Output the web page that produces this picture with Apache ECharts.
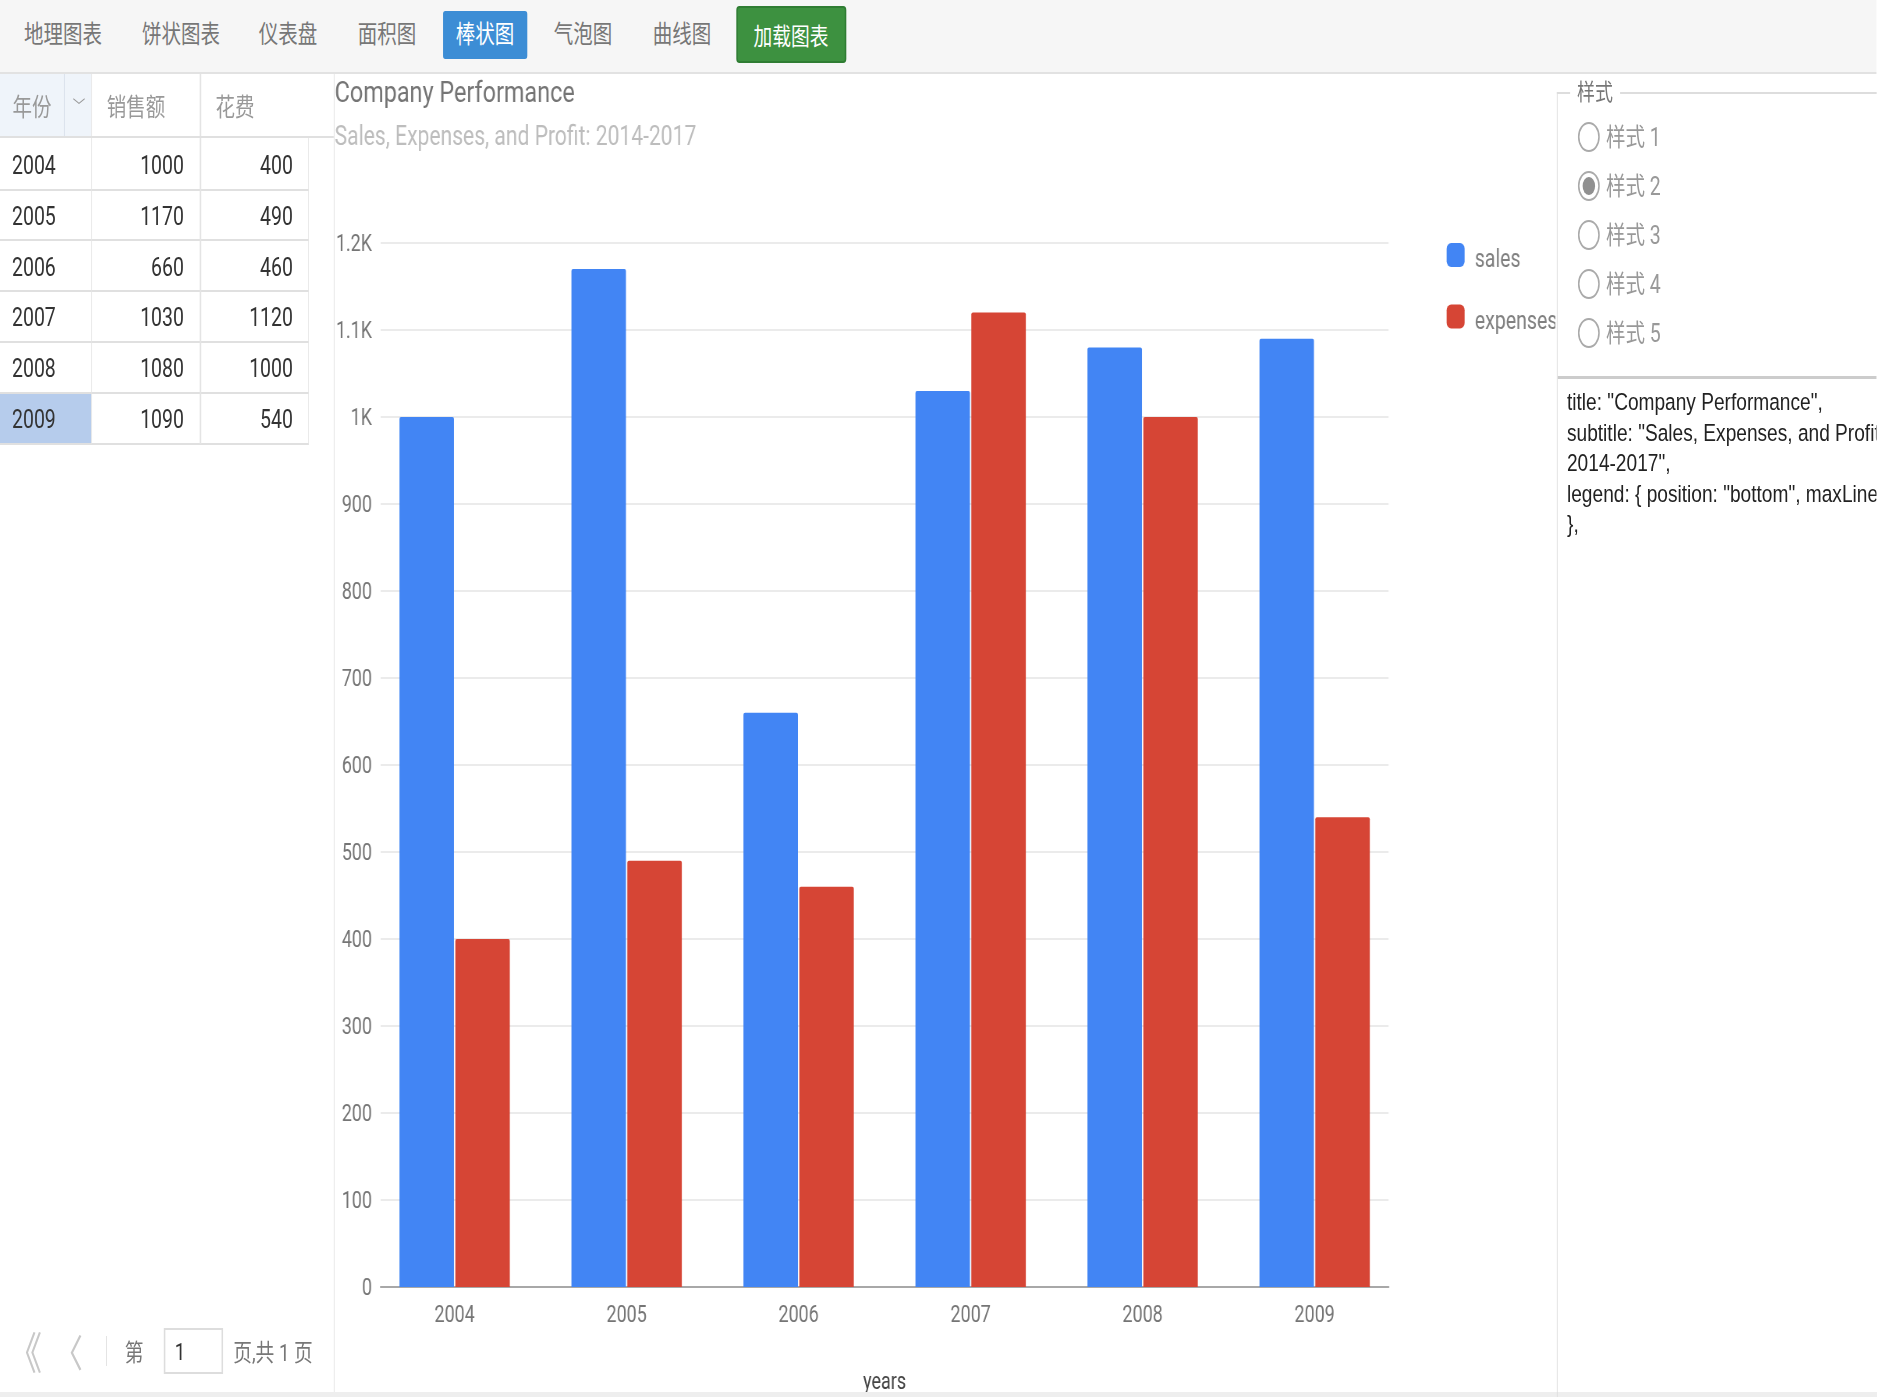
<!DOCTYPE html>
<html>
<head>
<meta charset="utf-8">
<script src="https://cdn.jsdelivr.net/npm/echarts@6/dist/echarts.min.js"></script>
<style>
html, body { margin: 0; height: 100%; overflow: hidden; background: #fff; }
#page { position: absolute; left: 0; top: 0; height: 1397px; transform-origin: 0 0; overflow: hidden;
        font-family: Roboto, "Noto Sans CJK SC", sans-serif; }
#page div { position: absolute; box-sizing: border-box; white-space: nowrap; }
.mid { display: flex; align-items: center; justify-content: center; }
</style>
</head>
<body>
<div id="page"><div id="container"></div></div>
<script type="text/javascript">
var years = ['2004', '2005', '2006', '2007', '2008', '2009'];
var sales = [1000, 1170, 660, 1030, 1080, 1090];
var expenses = [400, 490, 460, 1120, 1000, 540];
var yTickLabels = ['0', '100', '200', '300', '400', '500', '600', '700', '800', '900', '1K', '1.1K', '1.2K'];
var navItems = ['地理图表', '饼状图表', '仪表盘', '面积图', '棒状图', '气泡图', '曲线图'];
var tableHead = ['年份', '销售额', '花费'];
var styleNames = ['样式 1', '样式 2', '样式 3', '样式 4', '样式 5'];
var configLines = ['title: "Company Performance",', 'subtitle: "Sales, Expenses, and Profit:', '2014-2017",', 'legend: { position: "bottom", maxLines: 3 }', '},'];

// the reference is squeezed horizontally, so the page is laid out wider and scaled back
var SX = 0.78;
var page = document.getElementById('page');
page.style.width = (1877 / SX) + 'px';
page.style.transform = 'scaleX(' + SX + ')';

// x and w are in final picture pixels
function box(x, y, w, h, css, text) {
    var d = document.createElement('div');
    d.style.cssText = 'left:' + (x / SX) + 'px;top:' + y + 'px;width:' + (w / SX) + 'px;height:' + h + 'px;' + (css || '');
    if (text !== undefined) d.textContent = text;
    page.appendChild(d);
    return d;
}
function label(cx, cy, css, text) {
    var d = box(cx - 100, cy - 20, 200, 40, css, text);
    d.className = 'mid';
    return d;
}

// top bar
box(0, 0, 1877, 72, 'background:#f6f6f6');
box(0, 72, 1877, 2, 'background:#e2e2e2');
var navX = [63, 181, 288, 387, 485, 583, 682];
box(443, 11, 84, 48, 'background:#3c8dd5;border-radius:3px');
for (var i = 0; i < navItems.length; i++) {
    label(navX[i], 32, 'font-size:25px;color:' + (i == 4 ? '#fff' : '#777'), navItems[i]);
}
box(736, 6, 110, 57, 'background:#3d9140;border:2px solid #2f7d33;border-radius:4px');
label(791, 34, 'font-size:24px;color:#fff', '加载图表');

// left table
box(0, 74, 91, 64, 'background:#eff4fa');
box(64, 74, 1, 64, 'background:#d5dde8');
label(32, 105, 'font-size:25px;color:#999', tableHead[0]);
label(79, 105, 'font-size:16px;color:#999', '﹀');
label(136, 105, 'font-size:25px;color:#999', tableHead[1]);
label(235, 105, 'font-size:25px;color:#999', tableHead[2]);
box(91, 74, 1, 64, 'background:#e4e4e4');
box(200, 74, 1, 64, 'background:#e4e4e4');
box(0, 136, 334, 2, 'background:#e0e0e0');
for (var r = 0; r < years.length; r++) {
    var rowTop = 139 + r * 50.8;
    if (r == 5) box(0, rowTop + 1, 91, 50, 'background:#b6ccec');
    box(12, rowTop + 7, 70, 40, 'font-size:25px;line-height:40px;color:#333', years[r]);
    box(91, rowTop + 7, 93, 40, 'font-size:25px;line-height:40px;color:#333;text-align:right', sales[r]);
    box(200, rowTop + 7, 93, 40, 'font-size:25px;line-height:40px;color:#333;text-align:right', expenses[r]);
    box(0, rowTop + 49.5, 309, 2, 'background:#e0e0e0');
}
box(91, 138, 1, 306, 'background:#e4e4e4');
box(200, 138, 1, 306, 'background:#e4e4e4');
box(308, 138, 1, 306, 'background:#e4e4e4');
box(334, 74, 1, 1323, 'background:#e4e4e4');

// pager
label(25, 1350, 'font-size:44px;color:#c8c8c8', '《');
label(68, 1350, 'font-size:38px;color:#c8c8c8', '〈');
box(106, 1336, 1, 30, 'background:#ddd');
label(134, 1350, 'font-size:24px;color:#777', '第');
box(164, 1328, 59, 46, 'border:2px solid #ddd;background:#fff');
label(180, 1352, 'font-size:24px;color:#333', '1');
label(273, 1350, 'font-size:24px;color:#777', '页,共 1 页');
box(0, 1392, 1877, 5, 'background:#eee');

// style panel
box(1557, 92, 1, 1305, 'background:#ddd');
box(1557, 92, 320, 2, 'background:#ddd');
box(1570, 80, 50, 26, 'background:#fff');
label(1595, 90, 'font-size:23px;color:#777', '样式');
for (var s = 0; s < styleNames.length; s++) {
    var sy = 137 + s * 48.9;
    box(1578, sy - 15, 22, 30, 'border:2px solid #aaa;border-radius:50%;background:#fff');
    if (s == 1) box(1583, sy - 9, 12, 18, 'border-radius:50%;background:#909090');
    box(1606, sy - 19, 80, 40, 'font-size:25px;line-height:40px;color:#999', styleNames[s]);
}
box(1558, 376, 319, 3, 'background:#ccc');
for (var l = 0; l < configLines.length; l++) {
    box(1567, 386 + l * 30.5, 310, 32, 'font-family:\'Liberation Sans\';font-size:24.5px;line-height:32px;color:#222;overflow:hidden', configLines[l]);
}

// chart, positions below are picture pixels converted to canvas pixels
var chartLeft = 335, chartTop = 74;
var dom = document.getElementById('container');
dom.style.cssText = 'left:' + (chartLeft / SX) + 'px;top:' + chartTop + 'px;width:' + (1221 / SX) + 'px;height:1318px;';
function cx(x) { return (x - chartLeft) / SX; }
var gridTop = 243 - chartTop, gridBottom = 1318 - (1287 - chartTop);

var myChart = echarts.init(dom);
var option = {
    animation: false,
    textStyle: { fontFamily: 'Roboto' },
    title: {
        left: 0, top: 5, padding: 0, itemGap: 16,
        text: 'Company Performance',
        subtext: 'Sales, Expenses, and Profit: 2014-2017',
        textStyle: { fontSize: 30, fontWeight: 'normal', color: '#757575' },
        subtextStyle: { fontSize: 27, color: '#bdbdbd' }
    },
    legend: {
        orient: 'vertical',
        left: cx(1447), top: gridTop,
        padding: 0,
        itemWidth: 18 / SX, itemHeight: 24, itemGap: 31,
        icon: 'roundRect',
        formatter: '{t|{name}}',
        // rich padding is the only padding that moves the text down
        textStyle: { rich: { t: { fontSize: 25, fontFamily: 'Roboto', color: '#808080', padding: [12, 0, 0, 8] } } },
        data: ['sales', 'expenses']
    },
    // first grid carries the gridlines, second one the bars, they are a bit wider in the reference
    grid: [
        { left: cx(381), width: 1008 / SX, top: gridTop, bottom: gridBottom, outerBoundsMode: 'none' },
        { left: cx(369), width: 1032 / SX, top: gridTop, bottom: gridBottom, outerBoundsMode: 'none' }
    ],
    xAxis: [{
        type: 'category', gridIndex: 0, data: years,
        axisTick: { show: false }, axisLabel: { show: false },
        axisLine: { lineStyle: { color: '#a8a8a8', width: 2 } },
        name: 'years', nameLocation: 'middle', nameGap: 85,
        nameTextStyle: { fontSize: 23, color: '#444' }
    }, {
        type: 'category', gridIndex: 1, data: years,
        axisTick: { show: false }, axisLine: { show: false },
        axisLabel: { fontSize: 23, color: '#757575', margin: 18 }
    }],
    yAxis: [{
        type: 'value', gridIndex: 0, min: 0, max: 1200, interval: 100,
        axisLine: { show: false }, axisTick: { show: false },
        axisLabel: {
            margin: 11,
            rich: { t: { fontSize: 23, fontFamily: 'Roboto', color: '#757575', padding: [5, 0, 0, 0] } },
            formatter: function (v) { return '{t|' + yTickLabels[v / 100] + '}'; }
        },
        splitLine: { lineStyle: { color: '#ebebeb', width: 2 } }
    }, {
        type: 'value', gridIndex: 1, min: 0, max: 1200, interval: 100, show: false
    }],
    series: [{
        name: 'sales', type: 'bar', xAxisIndex: 1, yAxisIndex: 1, data: sales,
        barWidth: 54.5 / SX, barGap: '2.5%',
        itemStyle: { color: '#4285f4', borderRadius: [2, 2, 0, 0] }
    }, {
        name: 'expenses', type: 'bar', xAxisIndex: 1, yAxisIndex: 1, data: expenses,
        barWidth: 54.5 / SX,
        itemStyle: { color: '#d64535', borderRadius: [2, 2, 0, 0] }
    }]
};
myChart.setOption(option, true);
</script>
</body>
</html>
